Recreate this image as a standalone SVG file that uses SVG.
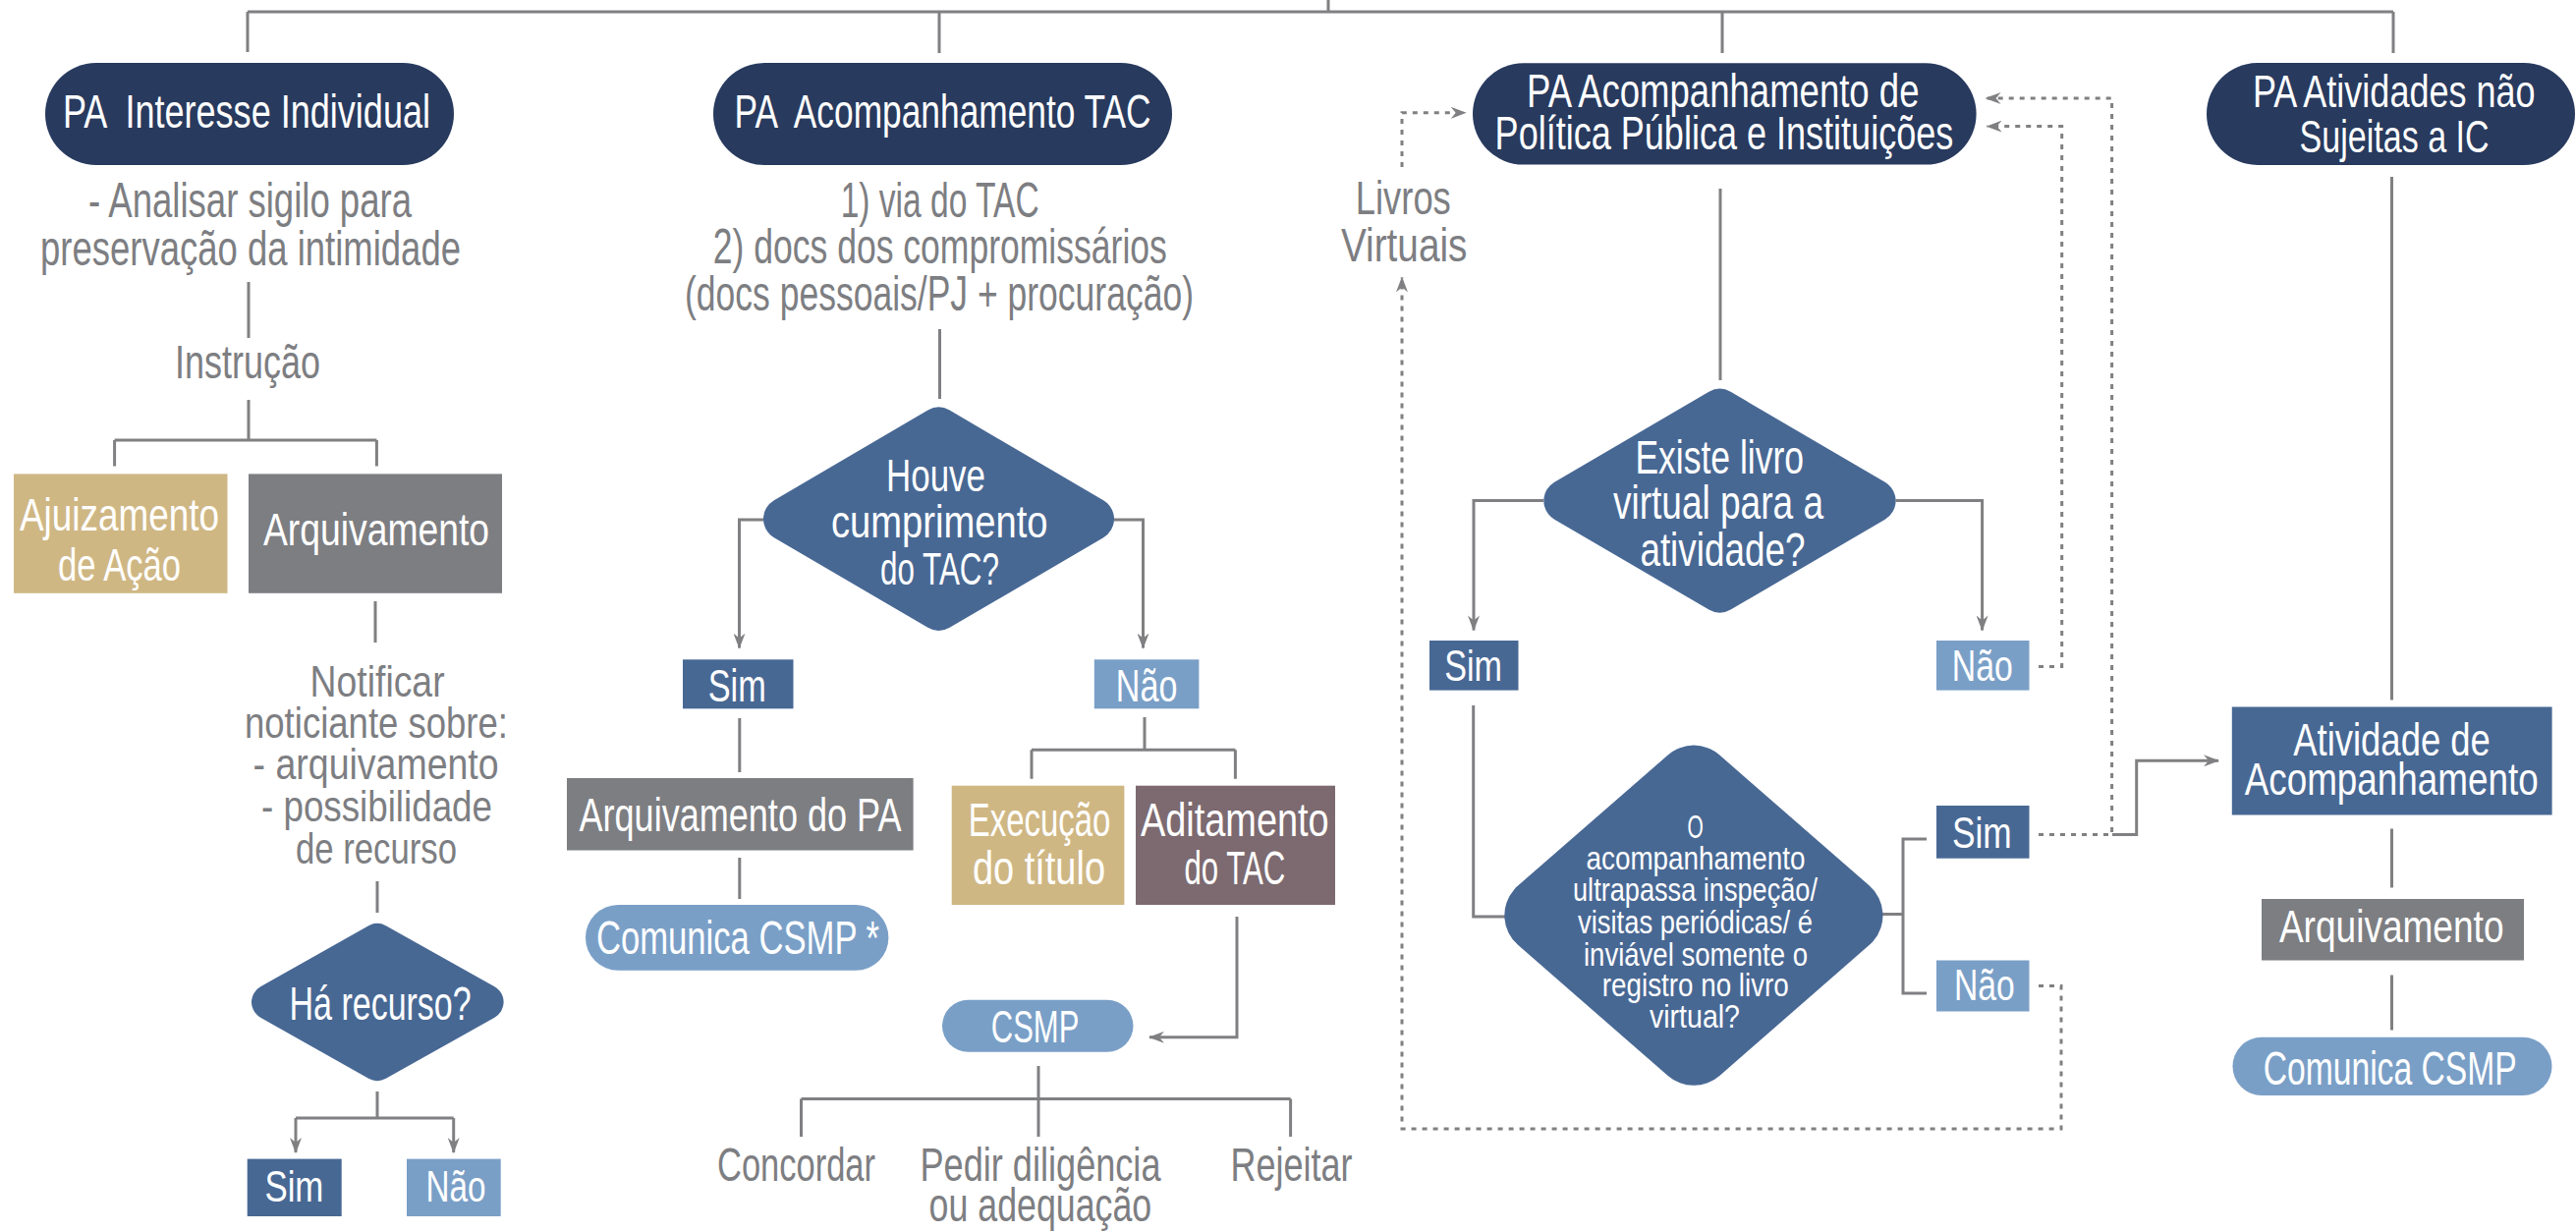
<svg xmlns="http://www.w3.org/2000/svg" width="2622" height="1254" viewBox="0 0 2622 1254">
<style>
text{font-family:"Liberation Sans Narrow","Liberation Sans",Arial,sans-serif;}
.w{fill:#ffffff;font-size:35.6px;}
.g{fill:#7d7e82;font-size:36.3px;}
.navy{fill:#283a5e;}
.mid{fill:#486894;}
.lt{fill:#7a9fc7;}
.tan{fill:#cfb784;}
.gry{fill:#7d7e82;}
.mauve{fill:#7c6a70;}
.ln{fill:none;stroke:#808083;stroke-width:3;}
.dt{fill:none;stroke:#808083;stroke-width:3;stroke-dasharray:5 6;}
</style>
<defs>
<marker id="ah" viewBox="0 0 16 12" refX="15" refY="6" markerWidth="16" markerHeight="12" markerUnits="userSpaceOnUse" orient="auto">
<path d="M0,0 L16,6 L0,12 L5,6 Z" fill="#808083"/>
</marker>
</defs>

<g id="connectors">
<path class="ln" d="M1352,0 V12 M252,12 H2436 M252,12 V53 M956,12 V54 M1753,12 V54 M2436,12 V54"/>
<path class="ln" d="M253,287 V344 M253,407 V448 M116.6,448 H383.4 M116.6,448 V474.5 M383.4,448 V474.5"/>
<path class="ln" d="M382,612 V654 M384,897 V929 M384,1111 V1138 M301,1138 H461.7"/>
<path class="ln" d="M301,1138 V1173" marker-end="url(#ah)"/>
<path class="ln" d="M461.7,1138 V1173" marker-end="url(#ah)"/>
<path class="ln" d="M956.5,335 V406"/>
<path class="ln" d="M777,529 H752.5 V659.6" marker-end="url(#ah)"/>
<path class="ln" d="M1134,529 H1163.5 V659.6" marker-end="url(#ah)"/>
<path class="ln" d="M752.8,731 V786 M752.8,873 V915 M1165,730 V763.3 M1050,763.3 H1257.4 M1050,763.3 V792.7 M1257.4,763.3 V792.7"/>
<path class="ln" d="M1259,933 V1055.8 H1170" marker-end="url(#ah)"/>
<path class="ln" d="M1057,1085 V1157 M815.5,1118.5 H1313.6 M815.5,1118.5 V1157 M1313.6,1118.5 V1157"/>
<path class="ln" d="M1751,192 V387"/>
<path class="ln" d="M1571,509.6 H1500 V641.4" marker-end="url(#ah)"/>
<path class="ln" d="M1929.6,509.6 H2017.6 V641.4" marker-end="url(#ah)"/>
<path class="ln" d="M1499.7,718 V933 H1533"/>
<path class="ln" d="M1914,930.5 H1937 M1961,854 H1937 V1011 H1961"/>
<path class="ln" d="M2434.5,180 V712.4 M2434.5,843.6 V903.5 M2434.5,992.4 V1048.4"/>
<path class="ln" d="M2150,849.5 H2174.7 V774.3 H2258" marker-end="url(#ah)"/>
<path class="dt" d="M1427,170 V114.8 H1491.7" marker-end="url(#ah)"/>
<path class="dt" d="M2075,1003.4 H2098 V1149 H1427 V282.4" marker-end="url(#ah)"/>
<path class="dt" d="M2075,678.4 H2098.7 V128.6 H2022.6" marker-end="url(#ah)"/>
<path class="dt" d="M2075,849.5 H2149.6 V100 H2021.6" marker-end="url(#ah)"/>
</g>

<g id="n-interesse">
<rect class="navy" x="46" y="64" width="416" height="104" rx="52"/>
<text class="w" x="64" y="129.7" transform="matrix(1 0 0 1.35 0 -45.395)" textLength="374" lengthAdjust="spacingAndGlyphs" xml:space="preserve">PA  Interesse Individual</text>
</g>
<g id="t-analisar">
<text class="g" style="font-size:37px" x="90" y="221.4" transform="matrix(1 0 0 1.35 0 -77.49)" textLength="329" lengthAdjust="spacingAndGlyphs">- Analisar sigilo para</text>
<text class="g" style="font-size:37px" x="41" y="270" transform="matrix(1 0 0 1.35 0 -94.5)" textLength="428" lengthAdjust="spacingAndGlyphs">preservação da intimidade</text>
</g>
<g id="t-instrucao">
<text class="g" style="font-size:35.6px" x="178" y="385.5" transform="matrix(1 0 0 1.35 0 -134.925)" textLength="148" lengthAdjust="spacingAndGlyphs">Instrução</text>
</g>
<g id="n-ajuizamento">
<rect class="tan" x="14" y="482.4" width="217.5" height="121.4"/>
<text class="w" style="font-size:34.8px" x="20" y="539.7" transform="matrix(1 0 0 1.35 0 -188.895)" textLength="203" lengthAdjust="spacingAndGlyphs">Ajuizamento</text>
<text class="w" style="font-size:34.8px" x="59" y="591" transform="matrix(1 0 0 1.35 0 -206.85)" textLength="125" lengthAdjust="spacingAndGlyphs">de Ação</text>
</g>
<g id="n-arquivamento1">
<rect class="gry" x="253" y="482.4" width="258" height="121.4"/>
<text class="w" style="font-size:34.8px" x="268" y="555.5" transform="matrix(1 0 0 1.35 0 -194.425)" textLength="230" lengthAdjust="spacingAndGlyphs">Arquivamento</text>
</g>
<g id="t-notificar">
<text class="g" style="font-size:33.3px" x="315.6" y="709.3" transform="matrix(1 0 0 1.35 0 -248.255)" textLength="137" lengthAdjust="spacingAndGlyphs">Notificar</text>
<text class="g" style="font-size:33.3px" x="249" y="751" transform="matrix(1 0 0 1.35 0 -262.85)" textLength="268" lengthAdjust="spacingAndGlyphs">noticiante sobre:</text>
<text class="g" style="font-size:33.3px" x="257.6" y="792.7" transform="matrix(1 0 0 1.35 0 -277.445)" textLength="250" lengthAdjust="spacingAndGlyphs">- arquivamento</text>
<text class="g" style="font-size:33.3px" x="266" y="836" transform="matrix(1 0 0 1.35 0 -292.6)" textLength="235" lengthAdjust="spacingAndGlyphs">- possibilidade</text>
<text class="g" style="font-size:33.3px" x="301" y="878.6" transform="matrix(1 0 0 1.35 0 -307.51)" textLength="164" lengthAdjust="spacingAndGlyphs">de recurso</text>
</g>
<g id="n-recurso">
<polygon class="mid" points="274,1020 384,958 494.6,1020 384,1082" stroke="#486894" stroke-width="36" stroke-linejoin="round"/>
<text class="w" x="294.6" y="1037.9" transform="matrix(1 0 0 1.35 0 -363.265)" textLength="185" lengthAdjust="spacingAndGlyphs">Há recurso?</text>
</g>
<g id="n-sim1">
<rect class="mid" x="251.7" y="1179.6" width="96" height="58.4"/>
<text class="w" style="font-size:33.3px" x="269.4" y="1223.4" transform="matrix(1 0 0 1.35 0 -428.19)" textLength="60" lengthAdjust="spacingAndGlyphs">Sim</text>
</g>
<g id="n-nao1">
<rect class="lt" x="414" y="1179.6" width="95.7" height="58.4"/>
<text class="w" style="font-size:33.3px" x="433.5" y="1223.4" transform="matrix(1 0 0 1.35 0 -428.19)" textLength="61" lengthAdjust="spacingAndGlyphs">Não</text>
</g>

<g id="n-tac">
<rect class="navy" x="726" y="64" width="467" height="104" rx="52"/>
<text class="w" style="font-size:36.3px" x="747.6" y="129.6" transform="matrix(1 0 0 1.35 0 -45.36)" textLength="424" lengthAdjust="spacingAndGlyphs" xml:space="preserve">PA  Acompanhamento TAC</text>
</g>
<g id="t-docs">
<text class="g" style="font-size:37px" x="855.7" y="221" transform="matrix(1 0 0 1.35 0 -77.35)" textLength="202" lengthAdjust="spacingAndGlyphs">1) via do TAC</text>
<text class="g" style="font-size:37px" x="725.8" y="268" transform="matrix(1 0 0 1.35 0 -93.8)" textLength="462" lengthAdjust="spacingAndGlyphs">2) docs dos compromissários</text>
<text class="g" style="font-size:37px" x="697" y="315.6" transform="matrix(1 0 0 1.35 0 -110.46)" textLength="518" lengthAdjust="spacingAndGlyphs">(docs pessoais/PJ + procuração)</text>
</g>
<g id="n-houve">
<polygon class="mid" points="799,528.2 955.5,436.6 1112,528.2 955.5,619.8" stroke="#486894" stroke-width="44" stroke-linejoin="round"/>
<text class="w" style="font-size:34.1px" x="902" y="500" transform="matrix(1 0 0 1.35 0 -175)" textLength="101" lengthAdjust="spacingAndGlyphs">Houve</text>
<text class="w" style="font-size:34.1px" x="846" y="547" transform="matrix(1 0 0 1.35 0 -191.45)" textLength="220.5" lengthAdjust="spacingAndGlyphs">cumprimento</text>
<text class="w" style="font-size:34.1px" x="896" y="595.5" transform="matrix(1 0 0 1.35 0 -208.425)" textLength="121" lengthAdjust="spacingAndGlyphs">do TAC?</text>
</g>
<g id="n-sim2">
<rect class="mid" x="695" y="671.3" width="112.5" height="50"/>
<text class="w" style="font-size:34.8px" x="720.7" y="713.6" transform="matrix(1 0 0 1.35 0 -249.76)" textLength="59" lengthAdjust="spacingAndGlyphs">Sim</text>
</g>
<g id="n-nao2">
<rect class="lt" x="1113.8" y="671.3" width="106.6" height="50"/>
<text class="w" style="font-size:34.8px" x="1135.8" y="713.6" transform="matrix(1 0 0 1.35 0 -249.76)" textLength="62.6" lengthAdjust="spacingAndGlyphs">Não</text>
</g>
<g id="n-arqpa">
<rect class="gry" x="577" y="792" width="352.6" height="73.5"/>
<text class="w" x="589.5" y="845.6" transform="matrix(1 0 0 1.35 0 -295.96)" textLength="328" lengthAdjust="spacingAndGlyphs">Arquivamento do PA</text>
</g>
<g id="n-comunica1">
<rect class="lt" x="596" y="921" width="308.4" height="66.7" rx="33.3"/>
<text class="w" x="607" y="970.8" transform="matrix(1 0 0 1.35 0 -339.78)" textLength="288" lengthAdjust="spacingAndGlyphs">Comunica CSMP *</text>
</g>
<g id="n-execucao">
<rect class="tan" x="968.7" y="799.7" width="175.7" height="121.3"/>
<text class="w" x="985.8" y="851.4" transform="matrix(1 0 0 1.35 0 -297.99)" textLength="144.6" lengthAdjust="spacingAndGlyphs">Execução</text>
<text class="w" x="990" y="900.4" transform="matrix(1 0 0 1.35 0 -315.14)" textLength="135" lengthAdjust="spacingAndGlyphs">do título</text>
</g>
<g id="n-aditamento">
<rect class="mauve" x="1156" y="799.7" width="203" height="121.3"/>
<text class="w" x="1161" y="851.4" transform="matrix(1 0 0 1.35 0 -297.99)" textLength="191.7" lengthAdjust="spacingAndGlyphs">Aditamento</text>
<text class="w" x="1205.4" y="900.4" transform="matrix(1 0 0 1.35 0 -315.14)" textLength="103" lengthAdjust="spacingAndGlyphs">do TAC</text>
</g>
<g id="n-csmp">
<rect class="lt" x="959" y="1017.8" width="194.5" height="52.9" rx="26.5"/>
<text class="w" style="font-size:34.8px" x="1008.8" y="1060.9" transform="matrix(1 0 0 1.35 0 -371.315)" textLength="89.5" lengthAdjust="spacingAndGlyphs">CSMP</text>
</g>
<g id="t-opcoes">
<text class="g" x="730" y="1201.9" transform="matrix(1 0 0 1.35 0 -420.665)" textLength="161" lengthAdjust="spacingAndGlyphs">Concordar</text>
<text class="g" x="936.5" y="1201.9" transform="matrix(1 0 0 1.35 0 -420.665)" textLength="245" lengthAdjust="spacingAndGlyphs">Pedir diligência</text>
<text class="g" x="945.6" y="1243" transform="matrix(1 0 0 1.35 0 -435.05)" textLength="226.6" lengthAdjust="spacingAndGlyphs">ou adequação</text>
<text class="g" x="1252.5" y="1201.9" transform="matrix(1 0 0 1.35 0 -420.665)" textLength="124" lengthAdjust="spacingAndGlyphs">Rejeitar</text>
</g>

<g id="n-politica">
<rect class="navy" x="1499" y="64.3" width="512.6" height="103.3" rx="51.6"/>
<text class="w" style="font-size:36.3px" x="1554" y="108.8" transform="matrix(1 0 0 1.35 0 -38.08)" textLength="399.5" lengthAdjust="spacingAndGlyphs">PA Acompanhamento de</text>
<text class="w" style="font-size:36.3px" x="1521.6" y="152.4" transform="matrix(1 0 0 1.35 0 -53.34)" textLength="466.7" lengthAdjust="spacingAndGlyphs">Política Pública e Instituições</text>
</g>
<g id="t-livros">
<text class="g" style="font-size:35.6px" x="1379.8" y="218" transform="matrix(1 0 0 1.35 0 -76.3)" textLength="97" lengthAdjust="spacingAndGlyphs">Livros</text>
<text class="g" style="font-size:35.6px" x="1365" y="266.3" transform="matrix(1 0 0 1.35 0 -93.205)" textLength="128.4" lengthAdjust="spacingAndGlyphs">Virtuais</text>
</g>
<g id="n-existe">
<polygon class="mid" points="1593.3,509.7 1750.5,417.8 1907.6,509.7 1750.5,601.5" stroke="#486894" stroke-width="44" stroke-linejoin="round"/>
<text class="w" x="1664.4" y="482" transform="matrix(1 0 0 1.35 0 -168.7)" textLength="171.6" lengthAdjust="spacingAndGlyphs">Existe livro</text>
<text class="w" x="1642" y="528" transform="matrix(1 0 0 1.35 0 -184.8)" textLength="214" lengthAdjust="spacingAndGlyphs">virtual para a</text>
<text class="w" x="1669.4" y="576.2" transform="matrix(1 0 0 1.35 0 -201.67)" textLength="168" lengthAdjust="spacingAndGlyphs">atividade?</text>
</g>
<g id="n-sim3">
<rect class="mid" x="1455" y="652" width="90.5" height="50.6"/>
<text class="w" style="font-size:33.3px" x="1470.3" y="693" transform="matrix(1 0 0 1.35 0 -242.55)" textLength="58.7" lengthAdjust="spacingAndGlyphs">Sim</text>
</g>
<g id="n-nao3">
<rect class="lt" x="1971" y="652" width="94.5" height="50.6"/>
<text class="w" style="font-size:33.3px" x="1986.8" y="693" transform="matrix(1 0 0 1.35 0 -242.55)" textLength="62" lengthAdjust="spacingAndGlyphs">Não</text>
</g>
<g id="n-ultrapassa">
<polygon class="mid" points="1571.3,931.7 1724,798.6 1876.5,931.7 1724,1064.8" stroke="#486894" stroke-width="80" stroke-linejoin="round"/>
<text class="w" style="font-size:24.4px" x="1717.6" y="853.4" transform="matrix(1 0 0 1.35 0 -298.69)" textLength="16.3" lengthAdjust="spacingAndGlyphs">O</text>
<text class="w" style="font-size:24.4px" x="1614.5" y="885.5" transform="matrix(1 0 0 1.35 0 -309.925)" textLength="223" lengthAdjust="spacingAndGlyphs">acompanhamento</text>
<text class="w" style="font-size:24.4px" x="1601" y="916.8" transform="matrix(1 0 0 1.35 0 -320.88)" textLength="249" lengthAdjust="spacingAndGlyphs">ultrapassa inspeção/</text>
<text class="w" style="font-size:24.4px" x="1606" y="950.5" transform="matrix(1 0 0 1.35 0 -332.675)" textLength="239" lengthAdjust="spacingAndGlyphs">visitas periódicas/ é</text>
<text class="w" style="font-size:24.4px" x="1612" y="982.6" transform="matrix(1 0 0 1.35 0 -343.91)" textLength="228" lengthAdjust="spacingAndGlyphs">inviável somente o</text>
<text class="w" style="font-size:24.4px" x="1630.8" y="1014" transform="matrix(1 0 0 1.35 0 -354.9)" textLength="190" lengthAdjust="spacingAndGlyphs">registro no livro</text>
<text class="w" style="font-size:24.4px" x="1679" y="1046" transform="matrix(1 0 0 1.35 0 -366.1)" textLength="92" lengthAdjust="spacingAndGlyphs">virtual?</text>
</g>
<g id="n-sim4">
<rect class="mid" x="1971" y="820" width="94.5" height="53.7"/>
<text class="w" style="font-size:33.3px" x="1987" y="863" transform="matrix(1 0 0 1.35 0 -302.05)" textLength="60.7" lengthAdjust="spacingAndGlyphs">Sim</text>
</g>
<g id="n-nao4">
<rect class="lt" x="1971" y="977.5" width="94.5" height="52"/>
<text class="w" style="font-size:33.3px" x="1989" y="1017.8" transform="matrix(1 0 0 1.35 0 -356.23)" textLength="61.7" lengthAdjust="spacingAndGlyphs">Não</text>
</g>

<g id="n-atividades">
<rect class="navy" x="2246" y="64" width="375" height="104" rx="52"/>
<text class="w" style="font-size:34.8px" x="2293" y="109.4" transform="matrix(1 0 0 1.35 0 -38.29)" textLength="287.5" lengthAdjust="spacingAndGlyphs">PA Atividades não</text>
<text class="w" style="font-size:34.8px" x="2340.6" y="155" transform="matrix(1 0 0 1.35 0 -54.25)" textLength="193" lengthAdjust="spacingAndGlyphs">Sujeitas a IC</text>
</g>
<g id="n-atividade-acomp">
<rect class="mid" x="2271.8" y="719.5" width="325.8" height="110"/>
<text class="w" style="font-size:34.8px" x="2334.2" y="769.2" transform="matrix(1 0 0 1.35 0 -269.22)" textLength="200.7" lengthAdjust="spacingAndGlyphs">Atividade de</text>
<text class="w" style="font-size:34.8px" x="2284.7" y="809" transform="matrix(1 0 0 1.35 0 -283.15)" textLength="299" lengthAdjust="spacingAndGlyphs">Acompanhamento</text>
</g>
<g id="n-arquivamento4">
<rect class="gry" x="2302" y="915" width="267" height="62.5"/>
<text class="w" style="font-size:34.8px" x="2319.9" y="959" transform="matrix(1 0 0 1.35 0 -335.65)" textLength="228.6" lengthAdjust="spacingAndGlyphs">Arquivamento</text>
</g>
<g id="n-comunica4">
<rect class="lt" x="2272.5" y="1055.8" width="325" height="59.2" rx="29.6"/>
<text class="w" x="2303.7" y="1104" transform="matrix(1 0 0 1.35 0 -386.4)" textLength="258" lengthAdjust="spacingAndGlyphs">Comunica CSMP</text>
</g>
</svg>
